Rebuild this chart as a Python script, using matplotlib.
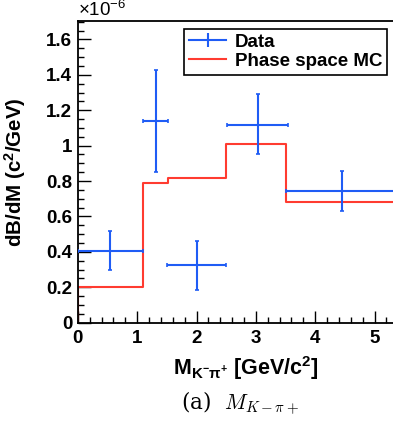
import numpy as np
import matplotlib
matplotlib.use('Agg')
import matplotlib.pyplot as plt
from matplotlib.ticker import MultipleLocator
from matplotlib.lines import Line2D

plt.rcParams['font.family'] = ['Liberation Sans', 'DejaVu Sans']
plt.rcParams['mathtext.fontset'] = 'custom'
plt.rcParams['mathtext.rm'] = 'Liberation Sans:bold'
plt.rcParams['mathtext.it'] = 'Liberation Sans:bold'
plt.rcParams['mathtext.bf'] = 'Liberation Sans:bold'
plt.rcParams['mathtext.sf'] = 'Liberation Sans'

# data points (units of 1e-6)
data_x = [0.55, 1.31, 2.0, 3.03, 4.45]
data_xlo = [0.55, 0.21, 0.5, 0.51, 0.95]
data_xhi = [0.55, 0.21, 0.5, 0.51, 0.95]
data_y = [0.407, 1.14, 0.324, 1.118, 0.742]
data_ylo = [0.107, 0.29, 0.141, 0.168, 0.112]
data_yhi = [0.113, 0.29, 0.139, 0.172, 0.113]

# phase space MC histogram
mc_edges = [0.0, 1.1, 1.52, 2.5, 3.5, 5.4]
mc_vals = [0.20, 0.79, 0.82, 1.01, 0.68]

blue = '#1f5cf5'
red = '#ff3b30'

fig = plt.figure(figsize=(3.93, 4.24), dpi=100)
ax = fig.add_axes([0.198, 0.239, 0.802, 0.711])

# MC step line starting from zero
xs = [mc_edges[0]]
ys = [0.0]
for i, v in enumerate(mc_vals):
    xs += [mc_edges[i], mc_edges[i + 1]]
    ys += [v, v]
ax.plot(xs, ys, color=red, lw=1.5, zorder=2)

ax.errorbar(data_x, data_y, xerr=[data_xlo, data_xhi], yerr=[data_ylo, data_yhi],
            fmt='none', ecolor=blue, elinewidth=1.5, capsize=1.5, capthick=1.2,
            zorder=3)

ax.set_xlim(0, 5.31)
ax.set_ylim(0, 1.703)
ax.spines['right'].set_visible(False)
for s in ax.spines.values():
    s.set_linewidth(1.3)

ax.xaxis.set_major_locator(MultipleLocator(1))
ax.xaxis.set_minor_locator(MultipleLocator(0.2))
ax.yaxis.set_major_locator(MultipleLocator(0.2))
ax.yaxis.set_minor_locator(MultipleLocator(0.05))
ax.tick_params(which='both', direction='in', top=False, right=False)
ax.tick_params(which='major', length=9, width=1.0, labelsize=13.5)
ax.tick_params(axis='x', which='major', pad=5)
ax.tick_params(axis='y', which='major', pad=4)
ax.tick_params(which='minor', length=4.5, width=1.0)
ax.yaxis.set_major_formatter(plt.FuncFormatter(lambda v, p: '%g' % round(v, 2)))
ax.xaxis.set_major_formatter(plt.FuncFormatter(lambda v, p: '%g' % round(v, 2)))
for lab in ax.get_xticklabels() + ax.get_yticklabels():
    lab.set_fontweight('bold')

ax.text(0.0, 1.005, r'$\mathsf{\times10^{-6}}$', transform=ax.transAxes,
        fontsize=13.5, ha='left', va='bottom')
ax.set_ylabel(r'dB/dM (c$^{2}$/GeV)', fontsize=14.8, fontweight='bold')
ax.yaxis.set_label_coords(-0.158, 0.5)
ax.set_xlabel(r'M$_{\mathregular{K^{-}\pi^{+}}}$ [GeV/c$^{2}$]', fontsize=15.5,
              fontweight='bold')
ax.xaxis.set_label_coords(0.533, -0.105)

handles = [Line2D([], [], color=blue, lw=1.5, marker='|', markersize=10, mew=1.5),
           Line2D([], [], color=red, lw=1.5)]
leg = ax.legend(handles, ['Data', 'Phase space MC'],
                loc='upper right', bbox_to_anchor=(0.981, 0.975), fontsize=13.5,
                frameon=True, fancybox=False, edgecolor='black', framealpha=1,
                borderpad=0.25, borderaxespad=0, handlelength=2.0,
                handletextpad=0.45, labelspacing=0.12)
leg.get_frame().set_linewidth(1.2)
for t in leg.get_texts():
    t.set_fontweight('bold')

fig.text(0.611, 0.05, r'(a)  $M_{K-\pi+}$', fontsize=15.5, ha='center',
         va='center', family='DejaVu Serif', math_fontfamily='cm')

fig.savefig('out.png', dpi=100)
